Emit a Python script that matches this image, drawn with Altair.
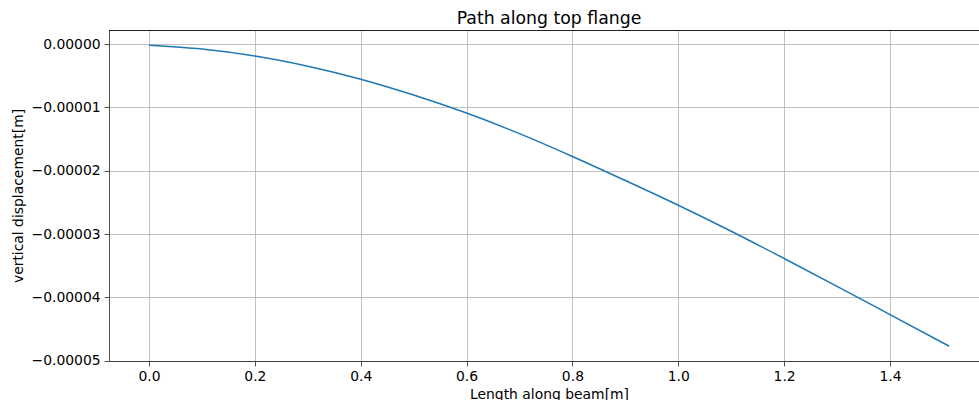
import altair as alt
import pandas as pd

# Values
length_m = [0.0, 0.1, 0.2, 0.3, 0.4, 0.5, 0.6, 0.7, 0.8, 0.9, 1.0, 1.1, 1.2, 1.3, 1.4, 1.512]
displacement_m = [-0.02e-5, -0.08e-5, -0.19e-5, -0.35e-5, -0.555e-5, -0.805e-5, -1.09e-5,
                  -1.415e-5, -1.775e-5, -2.155e-5, -2.545e-5, -2.955e-5, -3.385e-5, -3.825e-5,
                  -4.27e-5, -4.77e-5]
x_ticks = [0.0, 0.2, 0.4, 0.6, 0.8, 1.0, 1.2, 1.4]
y_ticks = [0.0, -0.00001, -0.00002, -0.00003, -0.00004, -0.00005]

df = pd.DataFrame({"x": length_m, "y": displacement_m})

FONT = "DejaVu Sans"
W, H = 870, 331

line = alt.Chart(df).mark_line(color="#1f77b4", strokeWidth=1.5, clip=True,
                               interpolate="monotone").encode(
    x=alt.X("x:Q",
            scale=alt.Scale(domain=[-0.0756, 1.5682], nice=False, zero=False),
            axis=alt.Axis(values=x_ticks, format=".1f", title="Length along beam[m]",
                          labelBaseline="alphabetic", labelPadding=15,
                          titleY=37, titleBaseline="alphabetic", titleX=W / 2 + 5)),
    y=alt.Y("y:Q",
            scale=alt.Scale(domain=[-5.003e-5, 2.21e-6], nice=False, zero=False),
            axis=alt.Axis(values=y_ticks, format=".5f", title="vertical displacement[m]",
                          labelPadding=4,
                          titleX=-91, titleY=H / 2, titleAngle=-90,
                          titleAlign="center", titleBaseline="middle")),
)

# top spine of the axes frame
top_spine = alt.Chart(df).mark_rule(color="#222222", strokeWidth=0.8).encode(
    x=alt.value(0), x2=alt.value(W), y=alt.value(0.5)
)

chart = alt.layer(line, top_spine).properties(
    width=W, height=H,
    title=alt.TitleParams("Path along top flange", font=FONT, fontSize=17.3,
                          fontWeight="normal", color="black", anchor="middle", offset=3,
                          dx=5),
    autosize=alt.AutoSizeParams(type="none"),
    padding={"left": 109, "top": 30, "right": 0, "bottom": 39},
).configure_axis(
    labelFont=FONT, labelFontSize=13.9, labelColor="black",
    titleFont=FONT, titleFontSize=13.9, titleFontWeight="normal", titleColor="black",
    grid=True, gridColor="#b0b0b0", gridWidth=0.8,
    domainColor="#222222", domainWidth=0.8,
    tickColor="#222222", tickWidth=0.8, tickSize=4.9,
).configure_view(stroke=None)

chart.save("out.html", embed_options={"renderer": "svg", "actions": False})
